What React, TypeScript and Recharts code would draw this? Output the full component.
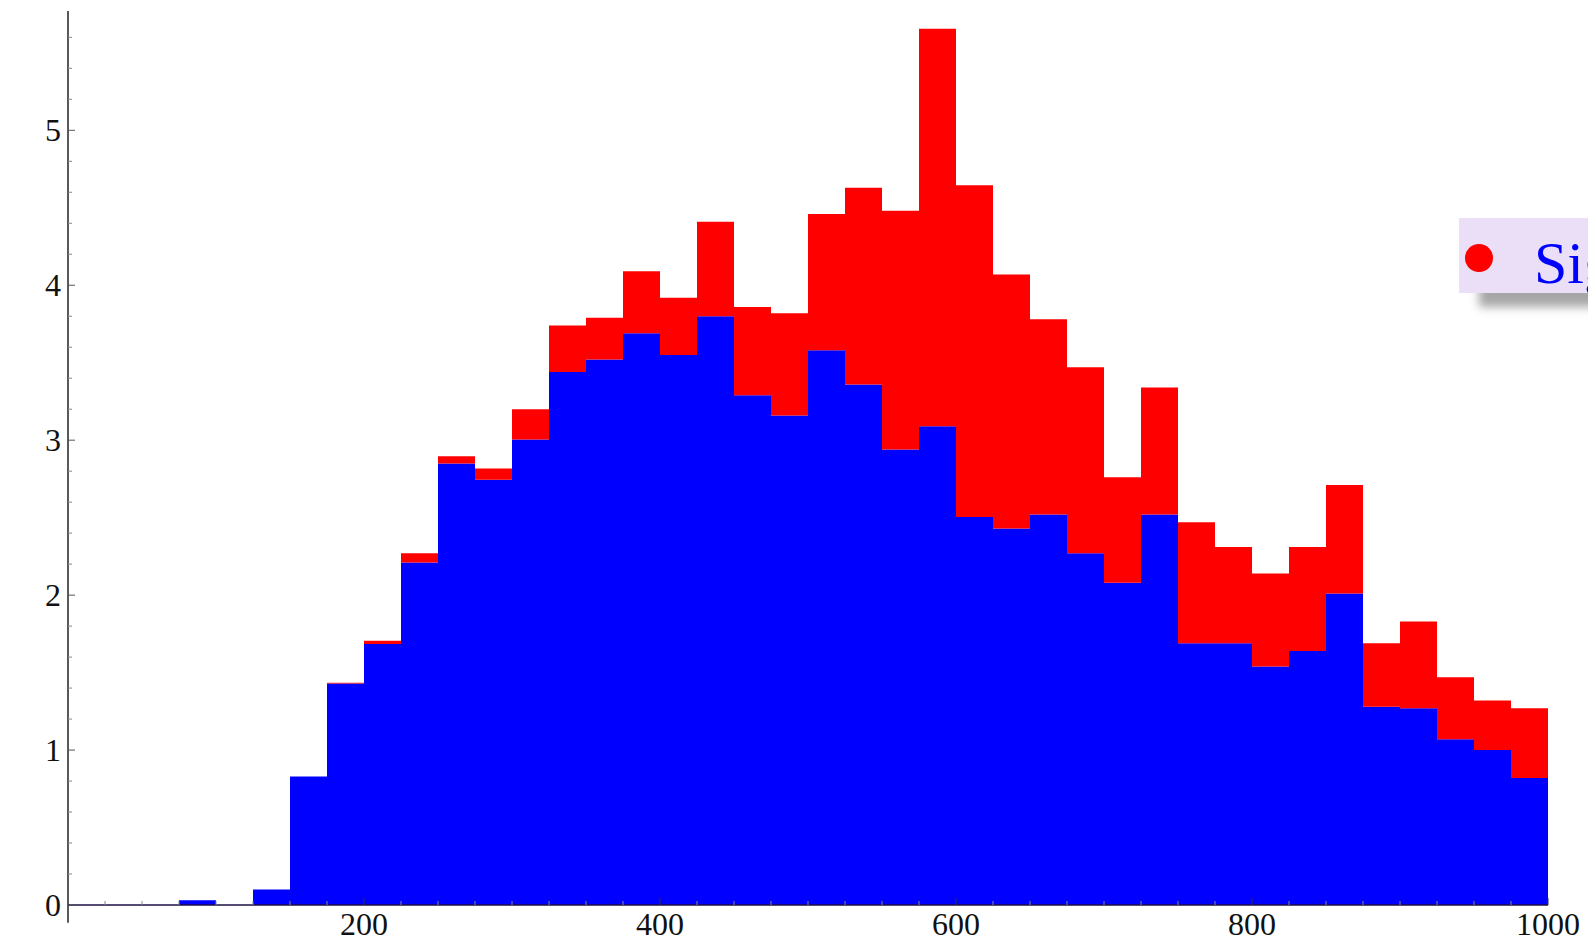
import { BarChart, Bar, XAxis, YAxis, Legend, ReferenceLine } from 'recharts'

// 25-wide bins from 0 to 1000
const binStarts = [
  0, 25, 50, 75, 100, 125, 150, 175, 200, 225, 250, 275, 300, 325, 350, 375, 400, 425, 450, 475,
  500, 525, 550, 575, 600, 625, 650, 675, 700, 725, 750, 775, 800, 825, 850, 875, 900, 925, 950, 975,
]

const background = [
  0, 0, 0, 0.03, 0, 0.1, 0.83, 1.43, 1.685, 2.21, 2.85, 2.745, 3.005, 3.44, 3.52, 3.69, 3.55, 3.8, 3.29, 3.16,
  3.58, 3.36, 2.94, 3.09, 2.505, 2.43, 2.52, 2.27, 2.08, 2.52, 1.69, 1.69, 1.54, 1.64, 2.01, 1.28, 1.27, 1.07, 1.0, 0.82,
]

const signal = [
  0, 0, 0, 0, 0, 0, 0, 0.005, 0.02, 0.06, 0.047, 0.072, 0.195, 0.3, 0.27, 0.4, 0.37, 0.61, 0.57, 0.66,
  0.88, 1.27, 1.54, 2.565, 2.14, 1.64, 1.26, 1.2, 0.68, 0.82, 0.78, 0.62, 0.6, 0.67, 0.7, 0.41, 0.56, 0.4, 0.32, 0.45,
]

const xTicks = [
  25, 50, 75, 100, 125, 150, 175, 200, 225, 250, 275, 300, 325, 350, 375, 400, 425, 450, 475, 500,
  525, 550, 575, 600, 625, 650, 675, 700, 725, 750, 775, 800, 825, 850, 875, 900, 925, 950, 975, 1000,
]
const xLabels = [200, 400, 600, 800, 1000]

const yTicks = [
  0, 0.2, 0.4, 0.6, 0.8, 1, 1.2, 1.4, 1.6, 1.8, 2, 2.2, 2.4, 2.6, 2.8, 3, 3.2, 3.4, 3.6, 3.8,
  4, 4.2, 4.4, 4.6, 4.8, 5, 5.2, 5.4, 5.6,
]
const yLabels = [0, 1, 2, 3, 4, 5]

const legendItems = [
  { name: 'Signal', color: '#ff0000' },
  { name: 'Background', color: '#0000ff' },
]

const data = binStarts.map((b, i) => ({
  bin: b,
  background: background[i],
  signal: signal[i],
}))

const FONT = '"Liberation Serif", "Times New Roman", serif'

const XTick = ({ x, y, payload }: { x: number; y: number; payload: { value: number } }) => {
  const major = xLabels.includes(payload.value)
  return (
    <g>
      <line x1={x} x2={x} y1={y} y2={y - (major ? 7 : 4)} stroke={major ? '#333' : '#888'} strokeWidth={1} />
      {major && (
        <text x={x} y={y + 30} textAnchor="middle" fontSize={32} fontFamily={FONT} fill="#111">
          {payload.value}
        </text>
      )}
    </g>
  )
}

const YTick = ({ x, y, payload }: { x: number; y: number; payload: { value: number } }) => {
  const major = yLabels.some((v) => Math.abs(v - payload.value) < 1e-6)
  return (
    <g>
      <line x1={x} x2={x + (major ? 7 : 4)} y1={y} y2={y} stroke={major ? '#555' : '#888'} strokeWidth={1} />
      {major && (
        <text x={x - 7} y={y} dy={11} textAnchor="end" fontSize={32} fontFamily={FONT} fill="#111">
          {payload.value}
        </text>
      )}
    </g>
  )
}

const LegendBox = () => (
  <div
    style={{
      display: 'flex',
      alignItems: 'center',
      height: 75,
      background: '#ebdef7',
      boxShadow: '20px 14px 9px rgba(0,0,0,0.35)',
      whiteSpace: 'nowrap',
      fontFamily: FONT,
    }}
  >
    {legendItems.map((item) => (
      <div key={item.name} style={{ display: 'flex', alignItems: 'center', paddingLeft: 6, paddingRight: 30 }}>
        <span
          style={{
            display: 'inline-block',
            width: 28,
            height: 28,
            borderRadius: '50%',
            background: item.color,
            marginRight: 41,
            position: 'relative',
            top: 2,
          }}
        />
        <span style={{ fontSize: 60, lineHeight: '75px', color: '#0000ff', position: 'relative', top: 8 }}>
          {item.name}
        </span>
      </div>
    ))}
  </div>
)

export default function App() {
  return (
    <div
      style={{
        position: 'absolute',
        left: 0,
        top: 0,
        width: 1588,
        height: 945,
        overflow: 'hidden',
        background: '#fff',
      }}
    >
      <BarChart
        width={1588}
        height={945}
        data={data}
        barCategoryGap={0}
        barGap={0}
        margin={{ top: 11, right: 40, left: 0, bottom: 0 }}
      >
        <XAxis xAxisId="bins" dataKey="bin" hide height={0} />
        <XAxis
          xAxisId="num"
          dataKey="bin"
          type="number"
          domain={[0, 1000]}
          allowDataOverflow
          ticks={xTicks}
          interval={0}
          height={40}
          tickSize={0}
          tickMargin={0}
          tickLine={false}
          axisLine={{ stroke: '#1c0f45', strokeWidth: 1.5 }}
          tick={XTick}
        />
        <YAxis
          type="number"
          domain={[0, 5.77]}
          allowDataOverflow
          ticks={yTicks}
          interval={0}
          width={68}
          tickSize={0}
          tickMargin={0}
          tickLine={false}
          axisLine={false}
          tick={YTick}
        />
        <Bar xAxisId="bins" dataKey="background" name="Background" stackId="h" fill="#0000ff" isAnimationActive={false} />
        <Bar xAxisId="bins" dataKey="signal" name="Signal" stackId="h" fill="#ff0000" isAnimationActive={false} />
        <ReferenceLine
          xAxisId="num"
          segment={[
            { x: 0, y: -0.115 },
            { x: 0, y: 5.77 },
          ]}
          stroke="#222"
          strokeWidth={1.5}
          ifOverflow="visible"
        />
        <Legend
          layout="vertical"
          align="center"
          verticalAlign="middle"
          content={LegendBox}
          wrapperStyle={{ left: 1459, top: 218, width: 'auto' }}
        />
      </BarChart>
    </div>
  )
}
